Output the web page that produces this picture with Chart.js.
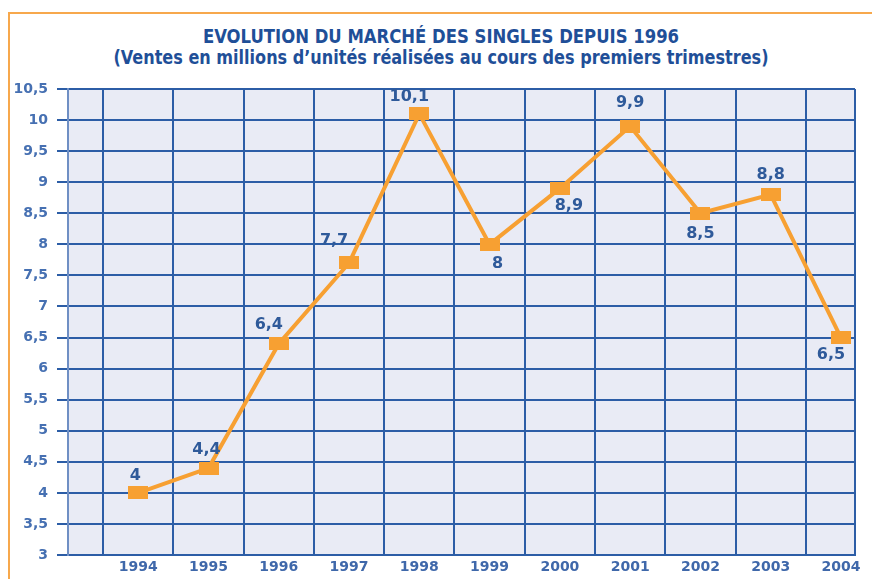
<!DOCTYPE html>
<html>
<head>
<meta charset="utf-8">
<script src="https://cdn.jsdelivr.net/npm/chart.js@4"></script>
<style>
  body { margin: 0; background: #fff; }
  #wrap { position: relative; width: 872px; height: 579px; overflow: hidden; }
  #frameTop { position: absolute; left: 8px; top: 12px; width: 864px; height: 2px; background: #f7a84c; }
  #frameLeft { position: absolute; left: 8px; top: 12px; width: 2px; height: 567px; background: #f7a84c; }
  #chartBox { position: absolute; left: 0; top: 0; width: 872px; height: 579px; }
  .ttl { position: absolute; left: 0; width: 882px; text-align: center; color: #1f4f98;
         font-family: "DejaVu Sans Condensed", "DejaVu Sans", sans-serif; font-weight: bold; white-space: nowrap; }
  #t1 { top: 24px; font-size: 20px; line-height: 24px; transform: scaleX(0.915); }
  #t2 { top: 45px; font-size: 19px; line-height: 24px; transform: scaleX(0.94); }
</style>
</head>
<body>
<div id="wrap">
  <div id="frameTop"></div>
  <div id="frameLeft"></div>
  <div id="t1" class="ttl">EVOLUTION DU MARCHÉ DES SINGLES DEPUIS 1996</div>
  <div id="t2" class="ttl">(Ventes en millions d’unités réalisées au cours des premiers trimestres)</div>
  <div id="chartBox"><canvas id="singlesChart"></canvas></div>
</div>
<script>
// data
const years = [1994, 1995, 1996, 1997, 1998, 1999, 2000, 2001, 2002, 2003, 2004];
const ventes = [4, 4.4, 6.4, 7.7, 10.1, 8, 8.9, 9.9, 8.5, 8.8, 6.5];
const yTicks = [3, 3.5, 4, 4.5, 5, 5.5, 6, 6.5, 7, 7.5, 8, 8.5, 9, 9.5, 10, 10.5];

// where each value label sits relative to its point (dx, dy)
const labelOffset = [[-3,-17],[-2,-18],[-10,-19],[-15,-22],[-10,-17],[8,20],[9,17],[0,-23],[0,21],[0,-20],[-10,17]];

const blue = '#2c5da6';
const orange = '#f7a032';
const tickFont = '"DejaVu Sans", Verdana, sans-serif';

const marker = document.createElement('canvas');
marker.width = 20; marker.height = 13;
const mctx = marker.getContext('2d');
mctx.fillStyle = orange;
mctx.fillRect(0, 0, 20, 13);

const plotBg = {
    id: 'plotBg',
    beforeDraw(chart) {
        const a = chart.chartArea;
        chart.ctx.save();
        chart.ctx.fillStyle = '#e9ebf5';
        chart.ctx.fillRect(a.left, a.top, a.right - a.left, a.bottom - a.top);
        chart.ctx.restore();
    }
};

const valueLabels = {
    id: 'valueLabels',
    afterDatasetsDraw(chart) {
        const ctx = chart.ctx;
        const pts = chart.getDatasetMeta(0).data;
        ctx.save();
        ctx.font = 'bold 16px ' + tickFont;
        ctx.fillStyle = '#2f5a9a';
        ctx.textAlign = 'center';
        ctx.textBaseline = 'middle';
        pts.forEach(function(p, i){
            const off = labelOffset[i];
            ctx.fillText(String(ventes[i]).replace('.', ','), p.x + off[0], p.y + off[1]);
        });
        ctx.restore();
    }
};

new Chart(document.getElementById('singlesChart').getContext('2d'), {
    type: 'line',
    data: {
        datasets: [{
            data: years.map(function(y, i){ return { x: y, y: ventes[i] }; }),
            borderColor: orange,
            borderWidth: 4,
            tension: 0,
            pointStyle: marker,
            pointRadius: 10
        }]
    },
    options: {
        responsive: true,
        maintainAspectRatio: false,
        animation: false,
        layout: { padding: { top: 89, right: 17, bottom: 0, left: 0 } },
        plugins: {
            legend: { display: false },
            tooltip: { enabled: false }
        },
        scales: {
            x: {
                type: 'linear',
                min: 1993,
                max: 2004.2,
                afterBuildTicks: function(scale){
                    const t = [];
                    years.forEach(function(y){ t.push({ value: y - 0.5 }); t.push({ value: y }); });
                    t.push({ value: 2004.2 });
                    scale.ticks = t;
                },
                afterFit: function(scale){ scale.height = 24; },
                border: { display: true, color: blue, width: 2 },
                grid: {
                    drawTicks: false,
                    lineWidth: 2,
                    color: function(c){ return Number.isInteger(c.tick.value) ? 'rgba(0,0,0,0)' : blue; }
                },
                ticks: {
                    autoSkip: false,
                    maxRotation: 0,
                    padding: 4,
                    color: '#3f68aa',
                    font: { family: tickFont, size: 14, weight: 'bold' },
                    callback: function(v){ return Number.isInteger(v) ? String(v) : ''; }
                }
            },
            y: {
                min: 3,
                max: 10.5,
                afterBuildTicks: function(scale){ scale.ticks = yTicks.map(function(v){ return { value: v }; }); },
                afterFit: function(scale){ scale.width = 68; },
                border: { display: true, color: '#6f8fc4', width: 2 },
                grid: { color: blue, lineWidth: 2, tickLength: 11 },
                ticks: {
                    padding: 9,
                    color: '#4670b2',
                    font: { family: tickFont, size: 14, weight: 'bold' },
                    callback: function(v){ return String(v).replace('.', ','); }
                }
            }
        }
    },
    plugins: [plotBg, valueLabels]
});
</script>
</body>
</html>
